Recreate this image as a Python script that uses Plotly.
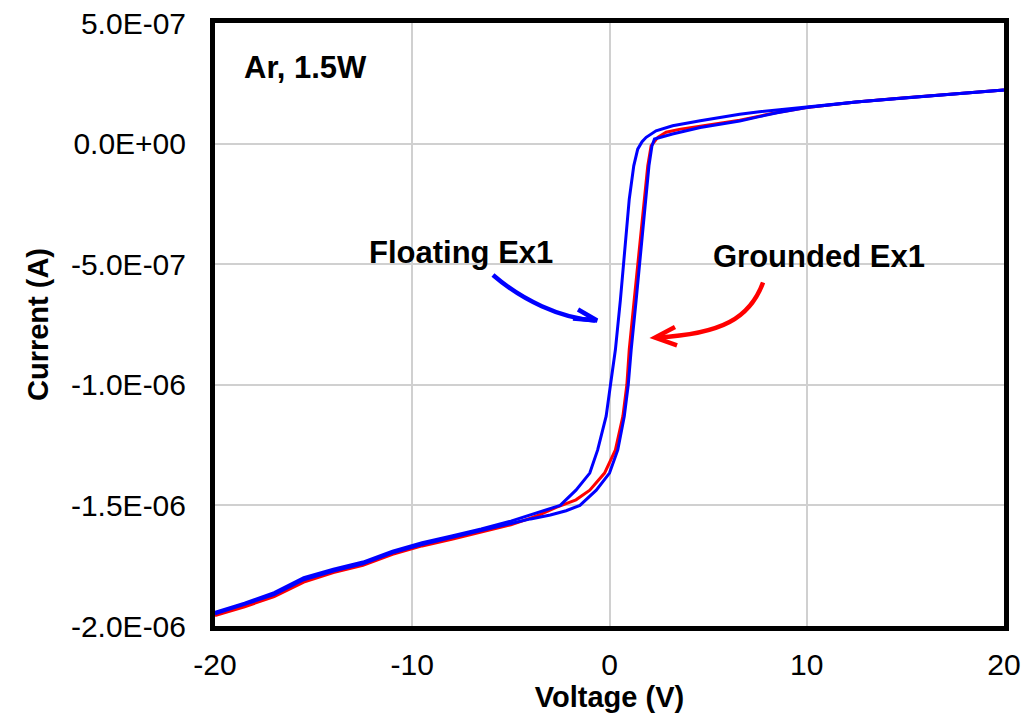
import numpy as np
import plotly.graph_objects as go

# ---------------- data (current in microamps, converted to A) ----------------
v_float_a = [-20, -18.5, -17, -15.5, -14, -12.5, -11, -9.5, -8, -6.5, -5, -4, -3.5, -2.5, -1.7,
             -1.0, -0.6, -0.17, 0.05, 0.3, 0.55, 0.76, 1.0, 1.23, 1.43, 1.65, 1.86, 2.36, 3.2, 4.6,
             5.6, 6.6, 7.6, 8.5, 10, 12.5, 14.7, 17, 20]
i_float_a = [-1.943, -1.905, -1.862, -1.80, -1.765, -1.735, -1.69, -1.655, -1.627, -1.598, -1.565,
             -1.54, -1.527, -1.50, -1.437, -1.366, -1.27, -1.13, -1.0, -0.854, -0.65, -0.439,
             -0.231, -0.092, -0.023, 0.008, 0.026, 0.053, 0.074, 0.095, 0.110, 0.122, 0.132, 0.140,
             0.152, 0.172, 0.188, 0.203, 0.222]

v_float_b = [-20, -18.5, -17, -15.5, -14, -12.5, -11, -9.5, -8, -6.5, -5, -4, -3, -2.2, -1.5,
             -0.67, 0, 0.42, 0.75, 0.95, 1.1, 1.35, 1.6, 1.85, 2.0, 2.15, 2.28, 3.19, 4.6, 5.6,
             6.6, 7.6, 8.5, 10, 12.5, 14.7, 17, 20]
i_float_b = [-1.95, -1.91, -1.87, -1.808, -1.772, -1.742, -1.697, -1.662, -1.634, -1.606, -1.575,
             -1.556, -1.54, -1.522, -1.50, -1.437, -1.366, -1.27, -1.13, -1.0, -0.854, -0.65,
             -0.439, -0.231, -0.092, -0.01, 0.019, 0.04, 0.067, 0.080, 0.094, 0.112, 0.128,
             0.150, 0.172, 0.188, 0.203, 0.222]

v_ground = [-20, -18.5, -17, -15.5, -14, -12.5, -11, -9.5, -8, -6.5, -5, -4, -3.5, -2.7, -1.7,
            -1.0, -0.25, 0.3, 0.68, 0.88, 1.0, 1.25, 1.52, 1.77, 1.94, 2.11, 2.45, 2.87, 3.6,
            4.6, 5.6, 6.6, 7.6, 8.5, 10, 12.5, 14.7, 17, 20]
i_ground = [-1.957, -1.92, -1.878, -1.818, -1.778, -1.748, -1.703, -1.668, -1.64, -1.61, -1.58,
            -1.553, -1.537, -1.508, -1.477, -1.437, -1.366, -1.27, -1.13, -1.0, -0.854, -0.65,
            -0.439, -0.231, -0.092, -0.009, 0.026, 0.047, 0.06, 0.072, 0.084, 0.097, 0.114,
            0.129, 0.150, 0.172, 0.188, 0.203, 0.222]

x_tickvals = [-20, -10, 0, 10, 20]
x_ticktext = ["-20", "-10", "0", "10", "20"]
y_tickvals = [-2.0e-6, -1.5e-6, -1.0e-6, -5.0e-7, 0.0, 5.0e-7]
y_ticktext = ["-2.0E-06", "-1.5E-06", "-1.0E-06", "-5.0E-07", "0.0E+00", "5.0E-07"]

UA = 1e-6

# ---------------- layout geometry (pixels) ----------------
W, H = 1035, 718
L, R, T, B = 215, 31, 23, 92
PW, PH = W - L - R, H - T - B


def px(xp):
    return (xp - L) / PW


def py(yp):
    return (H - B - yp) / PH


def P(xp, yp):
    return f"{px(xp):.4f},{py(yp):.4f}"


FONT = "Liberation Sans, Arial, sans-serif"

fig = go.Figure()
fig.add_trace(go.Scatter(x=v_ground, y=np.array(i_ground) * UA, mode="lines",
                         line=dict(color="#FF0000", width=3), name="Grounded Ex1"))
fig.add_trace(go.Scatter(x=v_float_b, y=np.array(i_float_b) * UA, mode="lines",
                         line=dict(color="#0000FF", width=3), name="Floating Ex1 b"))
fig.add_trace(go.Scatter(x=v_float_a, y=np.array(i_float_a) * UA, mode="lines",
                         line=dict(color="#0000FF", width=3), name="Floating Ex1 a"))

shapes = [
    # blue curved arrow
    dict(type="path", xref="paper", yref="paper",
         path=f"M {P(493, 275)} C {P(522, 300)} {P(560, 318)} {P(595, 320.5)}",
         line=dict(color="#0000FF", width=4.5)),
    dict(type="path", xref="paper", yref="paper",
         path=f"M {P(578, 309.5)} L {P(597, 320.5)} L {P(573, 318.5)}",
         line=dict(color="#0000FF", width=4.5)),
    # red curved arrow
    dict(type="path", xref="paper", yref="paper",
         path=f"M {P(763, 282.5)} C {P(750, 318)} {P(722, 334)} {P(657, 337.5)}",
         line=dict(color="#FF0000", width=4.5)),
    dict(type="path", xref="paper", yref="paper",
         path=f"M {P(675, 327)} L {P(655, 337.5)} L {P(677, 345.5)}",
         line=dict(color="#FF0000", width=4.5)),
]

annotations = [
    dict(text="<b>Ar, 1.5W</b>", xref="paper", yref="paper", x=px(242), y=py(67),
         xanchor="left", yanchor="middle", showarrow=False,
         font=dict(family=FONT, size=31, color="black")),
    dict(text="<b>Floating Ex1</b>", xref="paper", yref="paper", x=px(461), y=py(252),
         xanchor="center", yanchor="middle", showarrow=False,
         font=dict(family=FONT, size=31, color="black")),
    dict(text="<b>Grounded Ex1</b>", xref="paper", yref="paper", x=px(819), y=py(256),
         xanchor="center", yanchor="middle", showarrow=False,
         font=dict(family=FONT, size=31, color="black")),
]

fig.update_layout(
    width=W, height=H,
    margin=dict(l=L, r=R, t=T, b=B, pad=0, autoexpand=False),
    paper_bgcolor="white", plot_bgcolor="white",
    showlegend=False,
    shapes=shapes,
    annotations=annotations,
    font=dict(family=FONT, color="black"),
)

fig.update_xaxes(
    range=[-20, 20], tickvals=x_tickvals, ticktext=x_ticktext,
    showgrid=True, gridcolor="#d0d0d0", gridwidth=2, zeroline=False,
    showline=True, linecolor="black", linewidth=5, mirror=True,
    ticks="", ticklabelstandoff=8, automargin=False,
    tickfont=dict(family=FONT, size=30, color="black"),
    title=dict(text="<b>Voltage (V)</b>", font=dict(family=FONT, size=29, color="black"),
               standoff=0),
)
fig.update_yaxes(
    range=[-2.0e-6, 5.0e-7], tickvals=y_tickvals, ticktext=y_ticktext,
    showgrid=True, gridcolor="#d0d0d0", gridwidth=2, zeroline=False,
    showline=True, linecolor="black", linewidth=5, mirror=True,
    ticks="", ticklabelstandoff=18, automargin=False,
    tickfont=dict(family=FONT, size=30, color="black"),
    title=dict(text="<b>Current (A)</b>", font=dict(family=FONT, size=29, color="black"),
               standoff=15),
)

fig.write_html("out.html")
